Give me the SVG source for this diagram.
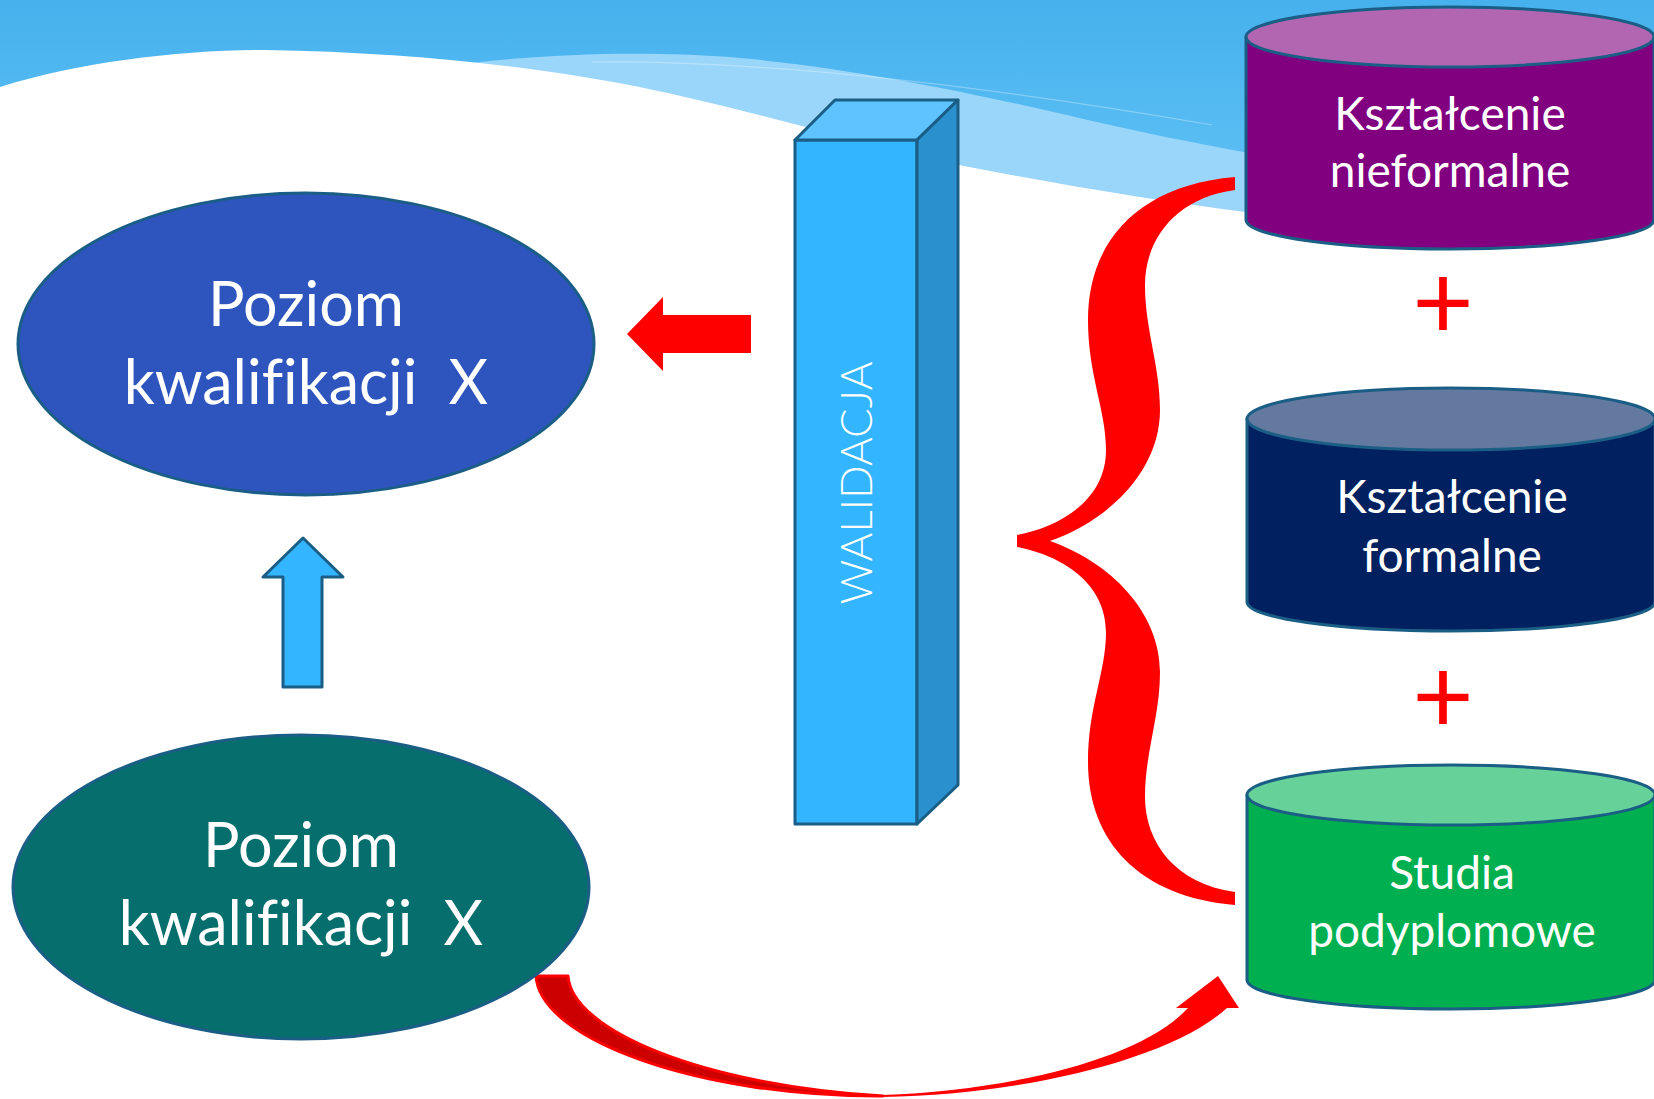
<svg xmlns="http://www.w3.org/2000/svg" width="1654" height="1099" viewBox="0 0 1654 1099">
  <defs>
    <linearGradient id="sky" x1="0" y1="0" x2="0" y2="1" gradientUnits="objectBoundingBox">
      <stop offset="0" stop-color="#46B1ED"/>
      <stop offset="0.2" stop-color="#62C3F6"/>
      <stop offset="1" stop-color="#62C3F6"/>
    </linearGradient>
  </defs>
  <style>
    .outline { stroke: #1B5E85; stroke-width: 3; stroke-linejoin: round; }
    .lbl { font-family: Lato, "Open Sans", "Liberation Sans", sans-serif; fill: #FFFFFF; text-anchor: middle; white-space: pre; font-variant-ligatures: none; font-feature-settings: "liga" 0; }
    .big { font-size: 61px; }
    .cyl { font-size: 46px; }
    .red { fill: #FF0000; }
    .plus { font-family: Lato, "Open Sans", "Liberation Sans", sans-serif; font-size: 106px; fill: #FF0000; text-anchor: middle; }
  </style>

  <!-- background -->
  <g id="background">
    <rect x="0" y="0" width="1654" height="1099" fill="url(#sky)"/>
    <path d="M 440 68 C 520 54, 640 50, 729 57 C 850 67, 980 95, 1058 113 C 1130 130, 1200 145, 1300 162 L 1300 400 L 440 400 Z" fill="#9AD6F9"/>
    <path d="M 592 62 C 760 60, 980 85, 1212 125" fill="none" stroke="#FFFFFF" stroke-opacity="0.3" stroke-width="1.2"/>
    <path d="M 0 87 C 80 62, 180 50, 264 50 C 400 52, 520 65, 619 83 C 720 102, 850 140, 949 163 C 1050 183, 1150 200, 1245 212 L 1654 212 L 1654 1099 L 0 1099 Z" fill="#FFFFFF"/>
  </g>

  <!-- connectors -->
  <g id="connectors">
    <path id="arrow-left" class="red" d="M 627 334 L 663 297 L 663 315 L 751 315 L 751 353 L 663 353 L 663 371 Z"/>
    <path id="arrow-up" class="outline" fill="#33B5FF" d="M 303 538 L 343 577 L 322 577 L 322 687 L 283 687 L 283 577 L 263 577 Z"/>
    <path id="brace" class="red" d="M 1235 177 C 1140 185, 1088 240, 1088 320 C 1088 375, 1106 410, 1106 450 C 1106 500, 1060 527, 1017 535 L 1017 547 C 1060 555, 1106 582, 1106 632 C 1106 672, 1088 707, 1088 762 C 1088 842, 1140 897, 1235 905 L 1235 892 C 1175 884, 1145 842, 1145 797 C 1145 752, 1160 717, 1160 672 C 1160 612, 1110 562, 1050 541 C 1110 520, 1160 470, 1160 410 C 1160 365, 1145 330, 1145 285 C 1145 240, 1175 198, 1235 190 Z"/>
    <g id="curved-arrow">
      <path d="M 536 976 L 568 976 C 572 1030, 700 1085, 883 1096 C 700 1097, 540 1040, 536 976 Z" fill="#CC0000" stroke="#FF0000" stroke-width="3" stroke-linejoin="round"/>
      <path class="red" d="M 883 1097 C 1020 1095, 1170 1060, 1227 1008 L 1239 1008 L 1218 976 L 1176 1008 L 1188 1008 C 1140 1060, 1010 1090, 883 1095 Z"/>
    </g>
  </g>

  <!-- nodes -->
  <g id="node-poziom-top">
    <ellipse class="outline" cx="306" cy="344" rx="288" ry="151" fill="#2E55BE"/>
    <text class="lbl big" x="306" y="326">Poziom</text>
    <text class="lbl big" x="306" y="404">kwalifikacji  X</text>
  </g>

  <g id="node-poziom-bottom">
    <ellipse class="outline" cx="301" cy="887" rx="288" ry="152" fill="#066E6C"/>
    <text class="lbl big" x="301" y="867">Poziom</text>
    <text class="lbl big" x="301" y="945">kwalifikacji  X</text>
  </g>

  <g id="node-walidacja">
    <path class="outline" fill="#33B5FF" d="M 795 140 L 917 140 L 917 824 L 795 824 Z"/>
    <path class="outline" fill="#5EC3FF" d="M 795 140 L 835 100 L 958 100 L 917 140 Z"/>
    <path class="outline" fill="#2A91CE" d="M 917 140 L 958 100 L 958 785 L 917 824 Z"/>
    <text class="lbl" font-size="44" font-weight="300" transform="translate(872 483) rotate(-90)" x="0" y="0">WALIDACJA</text>
  </g>

  <g id="node-nieformalne">
    <path class="outline" fill="#800080" d="M 1246 37 L 1246 220 A 204 29 0 0 0 1654 220 L 1654 37 Z"/>
    <ellipse class="outline" cx="1450" cy="37" rx="204" ry="30" fill="#B266B2"/>
    <text class="lbl cyl" x="1450" y="130">Kształcenie</text>
    <text class="lbl cyl" x="1450" y="187">nieformalne</text>
  </g>

  <g id="plus-1">
    <text class="plus" x="1443" y="339">+</text>
  </g>

  <g id="node-formalne">
    <path class="outline" fill="#00205F" d="M 1247 419 L 1247 602 A 204 29 0 0 0 1655 602 L 1655 419 Z"/>
    <ellipse class="outline" cx="1451" cy="419" rx="204" ry="31" fill="#6479A0"/>
    <text class="lbl cyl" x="1452" y="513">Kształcenie</text>
    <text class="lbl cyl" x="1452" y="572">formalne</text>
  </g>

  <g id="plus-2">
    <text class="plus" x="1443" y="733">+</text>
  </g>

  <g id="node-studia">
    <path class="outline" fill="#00B050" d="M 1247 795 L 1247 980 A 204 29 0 0 0 1655 980 L 1655 795 Z"/>
    <ellipse class="outline" cx="1451" cy="795" rx="204" ry="30" fill="#66D199"/>
    <text class="lbl cyl" x="1452" y="889">Studia</text>
    <text class="lbl cyl" x="1452" y="947">podyplomowe</text>
  </g>
</svg>
